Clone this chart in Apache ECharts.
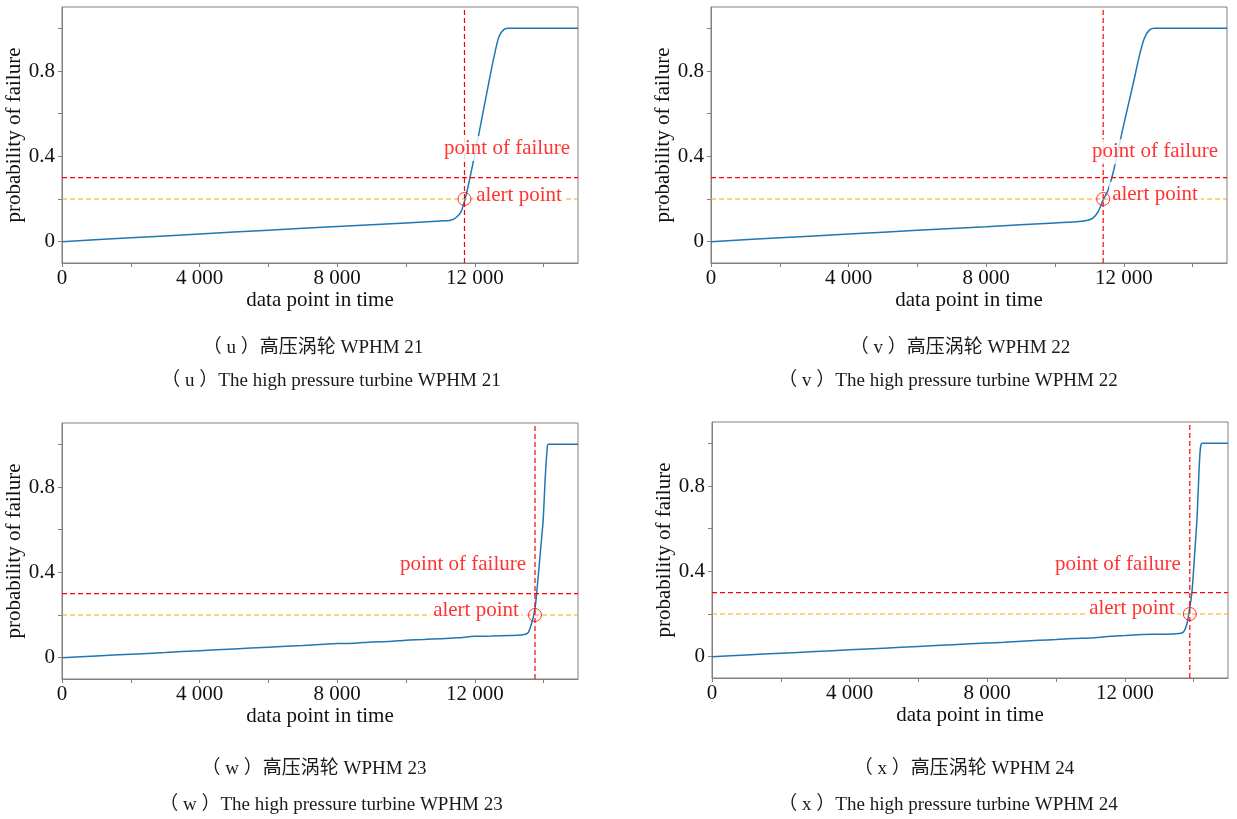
<!DOCTYPE html>
<html>
<head>
<meta charset="utf-8">
<title>WPHM 21-24</title>
<script src="https://cdn.jsdelivr.net/npm/echarts@6/dist/echarts.min.js"></script>
<style>
  html, body { margin: 0; padding: 0; background: #fff; }
  #main { width: 1237px; height: 819px; }
</style>
</head>
<body>
<div id="main"></div>
<script>
// curve values
const xU = [0, 2000, 4000, 6000, 8000, 10000, 11000, 11300, 11450, 11600, 11700, 11800, 11950, 12100, 12250, 12400, 12550, 12700, 12850, 13000, 15000]
const yU = [0, 0.018, 0.036, 0.054, 0.071, 0.088, 0.097, 0.100, 0.112, 0.140, 0.190, 0.255, 0.370, 0.490, 0.615, 0.740, 0.860, 0.960, 0.995, 1.0, 1.0]

const xV = [0, 2000, 4000, 6000, 8000, 10000, 10700, 10950, 11100, 11250, 11400, 11550, 11700, 11850, 12000, 12150, 12300, 12450, 12600, 12750, 12900, 15000]
const yV = [0, 0.018, 0.036, 0.053, 0.070, 0.088, 0.094, 0.100, 0.110, 0.140, 0.195, 0.245, 0.330, 0.440, 0.550, 0.655, 0.760, 0.870, 0.955, 0.993, 1.0, 1.0]

const xW = [0, 1000, 2000, 3000, 4000, 5000, 6000, 7000, 8000, 8500, 9000, 9500, 10000, 10500, 11000, 11500, 12000, 12500, 13000, 13400, 13550, 13650, 13750, 13840, 13920, 13985, 14050, 14100, 14140, 15000]
const yW = [0, 0.008, 0.016, 0.024, 0.033, 0.041, 0.049, 0.057, 0.066, 0.068, 0.074, 0.076, 0.082, 0.085, 0.089, 0.093, 0.100, 0.101, 0.104, 0.107, 0.117, 0.160, 0.230, 0.375, 0.520, 0.640, 0.850, 0.970, 1.0, 1.0]

const xX = [0, 1000, 2000, 3000, 4000, 5000, 6000, 7000, 8000, 8500, 9000, 9500, 10000, 10500, 11000, 11500, 12000, 12500, 13000, 13500, 13700, 13800, 13850, 13950, 14030, 14100, 14160, 14200, 14250, 15000]
const yX = [0, 0.008, 0.016, 0.024, 0.032, 0.040, 0.048, 0.056, 0.064, 0.067, 0.072, 0.077, 0.080, 0.085, 0.088, 0.094, 0.099, 0.104, 0.105, 0.107, 0.115, 0.150, 0.190, 0.300, 0.480, 0.650, 0.880, 0.980, 1.0, 1.0]

const failX = [11700, 11400, 13750, 13890]
const alertLevel = 0.2
const failLevel = 0.3

const xMin = 0, xMax = 15000
const yMin = -0.1, yMax = 1.1
const xTicks = [0, 2000, 4000, 6000, 8000, 10000, 12000, 14000]
const xTickLabels = [0, 4000, 8000, 12000]
const yTicks = [0, 0.2, 0.4, 0.6, 0.8, 1.0]
const yTickLabels = [0, 0.4, 0.8]

const capCn = ['（ u ）高压涡轮 WPHM 21', '（ v ）高压涡轮 WPHM 22', '（ w ）高压涡轮 WPHM 23', '（ x ）高压涡轮 WPHM 24']
const capEn = ['（ u ）The high pressure turbine WPHM 21', '（ v ）The high pressure turbine WPHM 22',
  '（ w ）The high pressure turbine WPHM 23', '（ x ）The high pressure turbine WPHM 24']

const curves = [[xU, yU], [xV, yV], [xW, yW], [xX, yX]]

// layout
const grids = [
  { left: 62, top: 7, width: 516, height: 256 },
  { left: 711, top: 7, width: 516, height: 256 },
  { left: 62, top: 423, width: 516, height: 256 },
  { left: 712, top: 422, width: 516, height: 256 }
]
// annotation anchors (data coords, text centre)
const notes = [
  { pof: [12936, 0.437], ap: [13285, 0.216] },
  { pof: [12907, 0.422], ap: [12907, 0.222] },
  { pof: [11660, 0.437], ap: [12035, 0.220] },
  { pof: [11800, 0.432], ap: [12209, 0.225] }
]
const capPos = [
  [[313, 348], [331, 381]],
  [[960, 348], [948, 381]],
  [[314, 769], [331, 805]],
  [[964, 769], [948, 805]]
]

const SERIF = '"Liberation Serif", "Times New Roman", serif'
const RED = '#ff0000'
const ORANGE = '#ffa500'
const SPINE = '#808080'

function fmtThousands(v) {
  return String(v).replace(/\B(?=(\d{3})+(?!\d))/g, ' ')
}

function refLine(i, pts, color) {
  return {
    type: 'line',
    xAxisIndex: i,
    yAxisIndex: i,
    data: pts,
    showSymbol: false,
    silent: true,
    lineStyle: { color: color, type: [5, 3], width: 1.2 },
    itemStyle: { color: color },
    z: 3
  }
}

const option = {
  animation: false,
  backgroundColor: '#fff',
  grid: grids.map(g => ({ ...g, show: true, borderColor: SPINE, borderWidth: 1, backgroundColor: 'transparent' })),
  xAxis: grids.map((g, i) => ({
    type: 'value',
    gridIndex: i,
    min: xMin,
    max: xMax,
    name: 'data point in time',
    nameLocation: 'middle',
    nameGap: 25,
    nameTextStyle: { fontFamily: SERIF, fontSize: 21, color: '#111' },
    axisLine: { show: true, onZero: false, lineStyle: { color: SPINE } },
    axisTick: { show: true, length: 4, lineStyle: { color: SPINE }, customValues: xTicks },
    axisLabel: {
      fontFamily: SERIF, fontSize: 21, color: '#111', margin: 5,
      customValues: xTickLabels, formatter: fmtThousands
    },
    splitLine: { show: false }
  })),
  yAxis: grids.map((g, i) => ({
    type: 'value',
    gridIndex: i,
    min: yMin,
    max: yMax,
    name: 'probability of failure',
    nameLocation: 'middle',
    nameGap: 34,
    nameTextStyle: { fontFamily: SERIF, fontSize: 21, color: '#111' },
    axisLine: { show: true, onZero: false, lineStyle: { color: SPINE } },
    axisTick: { show: true, length: 4, lineStyle: { color: SPINE }, customValues: yTicks },
    axisLabel: {
      fontFamily: SERIF, fontSize: 21, color: '#111', margin: 7,
      customValues: yTickLabels, formatter: v => String(Math.round(v * 10) / 10)
    },
    splitLine: { show: false }
  })),
  series: [],
  graphic: []
}

curves.forEach(([xs, ys], i) => {
  option.series.push({
    type: 'line',
    xAxisIndex: i,
    yAxisIndex: i,
    data: xs.map((x, k) => [x, ys[k]]),
    showSymbol: false,
    smooth: 0.25,
    lineStyle: { color: '#1f77b4', width: 1.5 },
    itemStyle: { color: '#1f77b4' },
    z: 2
  })
  option.series.push(refLine(i, [[xMin, failLevel], [xMax, failLevel]], RED))
  option.series.push(refLine(i, [[xMin, alertLevel], [xMax, alertLevel]], ORANGE))
  option.series.push(refLine(i, [[failX[i], yMin], [failX[i], yMax]], RED))
  // open circle at the alert crossing
  option.series.push({
    type: 'scatter',
    xAxisIndex: i,
    yAxisIndex: i,
    data: [[failX[i], alertLevel]],
    symbol: 'circle',
    symbolSize: 13,
    itemStyle: { color: 'rgba(0,0,0,0)', borderColor: RED, borderWidth: 1 },
    z: 6
  })
  // text boxes
  option.series.push({
    type: 'scatter',
    xAxisIndex: i,
    yAxisIndex: i,
    data: [
      [notes[i].pof[0], notes[i].pof[1], 'point of failure'],
      [notes[i].ap[0], notes[i].ap[1], 'alert point']
    ],
    symbolSize: 1,
    itemStyle: { color: 'rgba(0,0,0,0)' },
    z: 5,
    label: {
      show: true,
      position: 'inside',
      formatter: p => p.value[2],
      fontFamily: SERIF,
      fontSize: 21,
      color: RED,
      backgroundColor: '#fff',
      padding: [2, 3]
    }
  })
  capPos[i].forEach((pos, k) => {
    option.graphic.push({
      type: 'text',
      x: pos[0],
      y: pos[1],
      style: {
        text: k === 0 ? capCn[i] : capEn[i],
        font: '19px "Liberation Serif", "Noto Sans CJK SC", serif',
        fill: '#1a1a1a',
        align: 'center',
        verticalAlign: 'middle'
      }
    })
  })
})

const chart = echarts.init(document.getElementById('main'))
chart.setOption(option)
</script>
</body>
</html>
